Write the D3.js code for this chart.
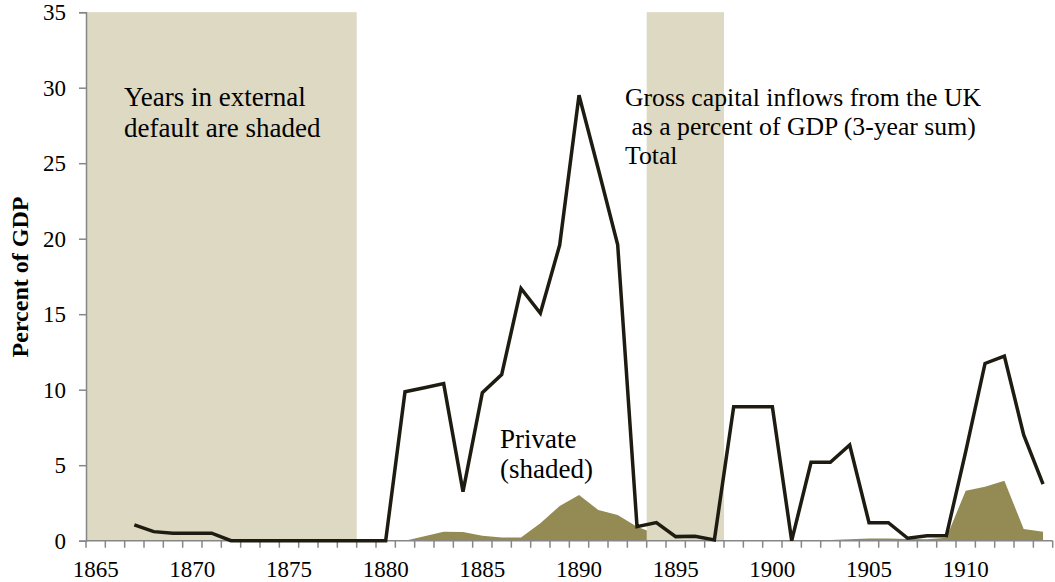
<!DOCTYPE html>
<html>
<head>
<meta charset="utf-8">
<script src="https://cdn.jsdelivr.net/npm/d3@7"></script>
<style>
  body { margin: 0; background: #fff; }
  svg { display: block; font-family: "Liberation Serif", "Times New Roman", serif; }
</style>
</head>
<body>
<svg id="chart" width="1055" height="582"></svg>
<script>
/*
Data
*/
var years = d3.range(1865, 1915);
var totalInflows = [null, null, 1.05, 0.6, 0.5, 0.5, 0.5, 0, 0, 0,
                    0, 0, 0, 0, 0, 0, 9.87, 10.13, 10.4, 3.25,
                    9.8, 11.0, 16.7, 15.06, 19.58, 29.5, 24.6, 19.6, 0.93, 1.2,
                    0.27, 0.3, 0.05, 8.87, 8.87, 8.87, 0, 5.19, 5.19, 6.34,
                    1.19, 1.19, 0.16, 0.33, 0.33, 5.9, 11.74, 12.23, 7.0, 3.75];
var privateInflows = [null, null, null, null, null, null, null, null, null, null,
                      null, null, null, null, null, null, 0, 0.3, 0.6, 0.58,
                      0.33, 0.22, 0.22, 1.15, 2.3, 3.03, 2.03, 1.7, 0.93, 0.45,
                      0.2, 0.1, 0.05, 0, 0, 0, 0, 0.02, 0.05, 0.1,
                      0.15, 0.15, 0.12, 0.1, 0.2, 3.31, 3.58, 3.97, 0.77, 0.6];
var defaultYears = [1865, 1866, 1867, 1868, 1869, 1870, 1871, 1872, 1873, 1874,
                    1875, 1876, 1877, 1878, 1894, 1895, 1896, 1897];
var yTicks = [0, 5, 10, 15, 20, 25, 30, 35];
var xLabels = [1865, 1870, 1875, 1880, 1885, 1890, 1895, 1900, 1905, 1910];

/*
Layout
*/
var plotLeft = 86, plotRight = 1052.7, plotTop = 12.2, plotBottom = 540.7;
var axisColor = "#868686";

var svg = d3.select("#chart");

var x = d3.scaleBand().domain(years).range([plotLeft, plotRight]).padding(0);
var y = d3.scaleLinear().domain([0, 35]).range([plotBottom, plotTop]);
function cx(yr){ return x(yr) + x.bandwidth()/2; }

/*
Private inflows (area)
*/
var privData = years.map(function(yr, i){ return {year: yr, v: privateInflows[i]}; });
var area = d3.area()
             .defined(function(d){ return d.v !== null; })
             .x(function(d){ return cx(d.year); })
             .y0(y(0))
             .y1(function(d){ return y(d.v); });
svg.append("path")
   .datum(privData)
   .attr("d", area)
   .style("fill", "#948a54");

/*
Default shading: group consecutive years into runs
*/
let runs = [];
defaultYears.forEach(function(yr){
  let last = runs[runs.length - 1];
  if (last && yr == last.end + 1){
    last.end = yr;
  } else {
    runs.push({start: yr, end: yr});
  }
});
svg.selectAll("rect.default")
   .data(runs)
   .enter()
   .append("rect")
   .attr("class", "default")
   .attr("x", function(d){ return x(d.start); })
   .attr("width", function(d){ return x(d.end) + x.bandwidth() - x(d.start); })
   .attr("y", y(35))
   .attr("height", y(0) - y(35))
   .style("fill", "#ddd9c3");

/*
Axes
*/
let yAxis = svg.append("g")
               .attr("transform", "translate(" + plotLeft + ",0)")
               .call(d3.axisLeft(y).tickValues(yTicks).tickSize(7).tickPadding(13));
yAxis.select(".domain").attr("stroke", axisColor).attr("stroke-width", 1.5);
yAxis.selectAll(".tick line").attr("stroke", axisColor).attr("stroke-width", 1.5);
yAxis.selectAll(".tick text")
     .style("font-family", "Liberation Serif")
     .style("font-size", "23px")
     .attr("fill", "#000");

let xAxis = svg.append("g");
xAxis.append("line")
     .attr("x1", plotLeft).attr("x2", plotRight)
     .attr("y1", y(0)).attr("y2", y(0))
     .attr("stroke", axisColor).attr("stroke-width", 1.5);
let tickPos = years.map(function(yr){ return x(yr); }).concat([plotRight]);
xAxis.selectAll("line.xtick")
     .data(tickPos)
     .enter()
     .append("line")
     .attr("class", "xtick")
     .attr("x1", function(d){ return d; })
     .attr("x2", function(d){ return d; })
     .attr("y1", y(0))
     .attr("y2", y(0) + 7)
     .attr("stroke", axisColor).attr("stroke-width", 1.5);
xAxis.selectAll("text")
     .data(xLabels)
     .enter()
     .append("text")
     .attr("x", function(d){ return cx(d); })
     .attr("y", 577)
     .attr("text-anchor", "middle")
     .style("font-size", "23px")
     .text(function(d){ return d; });

svg.append("text")
   .attr("transform", "translate(28,277) rotate(-90)")
   .attr("text-anchor", "middle")
   .style("font-size", "24px")
   .style("font-weight", "bold")
   .text("Percent of GDP");

/*
Total inflows (line)
*/
var totalData = years.map(function(yr, i){ return {year: yr, v: totalInflows[i]}; });
var line = d3.line()
             .defined(function(d){ return d.v !== null; })
             .x(function(d){ return cx(d.year); })
             .y(function(d){ return y(d.v); });
svg.append("path")
   .datum(totalData)
   .attr("d", line)
   .style("fill", "none")
   .style("stroke", "#1e1c11")
   .style("stroke-width", 3.5)
   .style("stroke-linejoin", "miter");

/*
Annotations
*/
function addLines(lines, x0, y0, step, size){
  let t = svg.append("text")
             .attr("x", x0).attr("y", y0)
             .style("font-size", size + "px")
             .attr("xml:space", "preserve");
  lines.forEach(function(s, i){
    t.append("tspan").attr("x", x0).attr("y", y0 + i*step).text(s);
  });
}
addLines(["Years in external", "default are shaded"], 124, 106, 31, 27);
addLines(["Gross capital inflows from the UK", " as a percent of GDP (3-year sum)", "Total"], 625, 106, 29, 25.7);
addLines(["Private", "(shaded)"], 500, 448, 30, 27);
</script>
</body>
</html>
